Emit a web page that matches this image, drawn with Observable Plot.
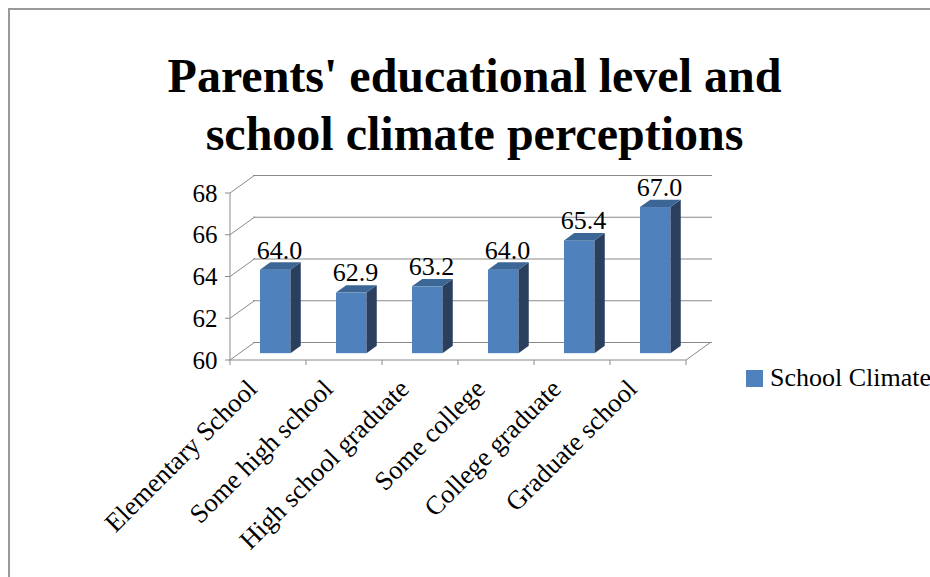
<!DOCTYPE html>
<html>
<head>
<meta charset="utf-8">
<script src="https://cdn.jsdelivr.net/npm/d3@7"></script>
<script src="https://cdn.jsdelivr.net/npm/@observablehq/plot@0.6"></script>
<style>
  html, body { margin: 0; padding: 0; background: #fff; }
  #chart { position: relative; width: 930px; height: 577px; overflow: hidden;
           font-family: "Liberation Serif", "Times New Roman", serif; color: #000; }
  #border { position: absolute; left: 8px; top: 8px; width: 1000px; height: 1000px;
            border-left: 2px solid #9a9a9a; border-top: 2px solid #9a9a9a; }
  #title { position: absolute; left: 0; top: 47px; width: 949px; text-align: center;
           font-weight: bold; font-size: 48px; line-height: 58px; }
  #plot { position: absolute; left: 0; top: 0; }
  #plot text { font-family: "Liberation Serif", "Times New Roman", serif; }
  #legend-swatch { position: absolute; left: 746px; top: 370px; width: 17px; height: 17px; }
  #legend-label { position: absolute; left: 770px; top: 365px; font-size: 26px; line-height: 26px; white-space: nowrap; }
</style>
</head>
<body>
<div id="chart">
  <div id="border"></div>
  <div id="title"></div>
  <div id="plot"></div>
  <div id="legend-swatch"></div>
  <div id="legend-label"></div>
</div>
<script>
// Mean school climate score by parents' educational level
const titleLines = ["Parents' educational level and", "school climate perceptions"];
const categories = [
  "Elementary School",
  "Some high school",
  "High school graduate",
  "Some college",
  "College graduate",
  "Graduate school"
];
const values = [64.0, 62.9, 63.2, 64.0, 65.4, 67.0];
const yTicks = [60, 62, 64, 66, 68];
const seriesName = "School Climate";

const rows = categories.map((category, i) => ({category, value: values[i]}));

const SERIF = "'Liberation Serif', 'Times New Roman', serif";

// colours of the three visible faces of each column
const FRONT = "#4f81bd", TOP = "#3c6695", SIDE = "#293f5d";
const GRID = "#8a8a8a";

// depth of the walls (pixels) and where each column sits inside that depth
const WALL = {dx: 25, dy: -18};
const BAR_NEAR = 0.38, BAR_FAR = 0.79;
const BAR_INSET_LEFT = 20.5, BAR_INSET_RIGHT = 25;
const near = {dx: WALL.dx * BAR_NEAR, dy: WALL.dy * BAR_NEAR};
const deep = {dx: WALL.dx * (BAR_FAR - BAR_NEAR), dy: WALL.dy * (BAR_FAR - BAR_NEAR)};

function pickScales(args) {
  return [...args].find(a => a && typeof a.x === "function" && typeof a.y === "function");
}
function bandwidthOf(x) {
  return typeof x.bandwidth === "function" ? x.bandwidth() : x.bandwidth;
}
const poly = pts => pts.map(p => p.join(",")).join(" ");

// left wall, value axis, floor and category ticks
function wallsAndFloor() {
  const {x, y} = pickScales(arguments);
  const bw = bandwidthOf(x);
  const x0 = x(categories[0]);
  const x1 = x(categories[categories.length - 1]) + bw;
  const yb = y(yTicks[0]), yt = y(yTicks[yTicks.length - 1]);
  const g = d3.create("svg:g").attr("fill", "none").attr("stroke", GRID).attr("stroke-width", 1);
  for (const t of yTicks) {
    g.append("line").attr("x1", x0).attr("y1", y(t)).attr("x2", x0 + WALL.dx).attr("y2", y(t) + WALL.dy);
    g.append("line").attr("x1", x0 - 5).attr("y1", y(t)).attr("x2", x0).attr("y2", y(t));
  }
  g.append("line").attr("x1", x0).attr("y1", yt).attr("x2", x0).attr("y2", yb);
  g.append("line").attr("x1", x0).attr("y1", yb).attr("x2", x1).attr("y2", yb);
  g.append("line").attr("x1", x1).attr("y1", yb).attr("x2", x1 + WALL.dx).attr("y2", yb + WALL.dy);
  for (let k = 0; k <= categories.length; ++k) {
    const xt = x0 + k * bw;
    g.append("line").attr("x1", xt).attr("y1", yb).attr("x2", xt).attr("y2", yb + 5);
  }
  return g.node();
}

// top and right faces of each column
function columnFaces() {
  const {x, y} = pickScales(arguments);
  const bw = bandwidthOf(x);
  const g = d3.create("svg:g").attr("stroke", "none");
  for (const d of rows) {
    const L = x(d.category) + near.dx + BAR_INSET_LEFT;
    const R = x(d.category) + bw - BAR_INSET_RIGHT + near.dx;
    const T = y(d.value) + near.dy;
    const B = y(yTicks[0]) + near.dy;
    g.append("polygon").attr("fill", SIDE)
      .attr("points", poly([[R, B], [R + deep.dx, B + deep.dy], [R + deep.dx, T + deep.dy], [R, T]]));
    g.append("polygon").attr("fill", TOP)
      .attr("points", poly([[L, T], [R, T], [R + deep.dx, T + deep.dy], [L + deep.dx, T + deep.dy]]));
  }
  return g.node();
}

const chart = Plot.plot({
  width: 930,
  height: 577,
  marginLeft: 228,
  marginRight: 243,
  marginTop: 193,
  marginBottom: 217,
  style: {fontFamily: SERIF, fontSize: "25px", color: "#000", background: "transparent", overflow: "visible"},
  x: {domain: categories, padding: 0, axis: null},
  y: {domain: [yTicks[0], yTicks[yTicks.length - 1]], axis: null},
  marks: [
    // back wall gridlines
    Plot.ruleY(yTicks, {stroke: GRID, strokeOpacity: 1, dx: WALL.dx, dy: WALL.dy}),
    wallsAndFloor,
    // value axis labels
    Plot.text(yTicks, {
      y: d => d, frameAnchor: "left", text: d => String(d), textAnchor: "end",
      dx: -11, fontSize: 25, fontFamily: SERIF, fill: "#000"
    }),
    // front faces of the columns
    Plot.barY(rows, {
      x: "category", y1: () => yTicks[0], y2: "value", fill: FRONT,
      insetLeft: BAR_INSET_LEFT, insetRight: BAR_INSET_RIGHT, dx: near.dx, dy: near.dy
    }),
    columnFaces,
    // value labels
    Plot.text(rows, {
      x: "category", y: "value", text: d => d.value.toFixed(1),
      dx: 11, dy: -18.5, lineAnchor: "bottom", fontSize: 26, fontFamily: SERIF, fill: "#000"
    }),
    // category labels
    Plot.text(categories, {
      x: d => d, frameAnchor: "bottom", text: d => d, rotate: -45,
      textAnchor: "end", lineAnchor: "bottom", dx: -10, dy: 30, fontSize: 26.5, fontFamily: SERIF, fill: "#000"
    })
  ]
});

document.getElementById("plot").appendChild(chart);
document.getElementById("title").innerHTML = titleLines.join("<br>");
document.getElementById("legend-swatch").style.background = FRONT;
document.getElementById("legend-label").textContent = seriesName;
</script>
</body>
</html>
